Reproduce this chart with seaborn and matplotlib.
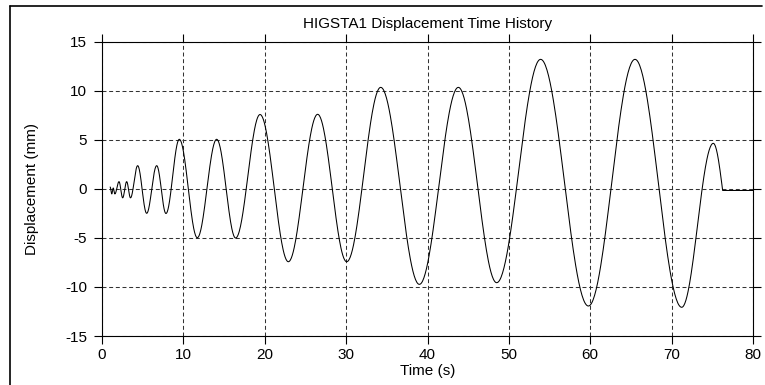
import numpy as np
import pandas as pd
import matplotlib
matplotlib.use("Agg")
import matplotlib.pyplot as plt
from matplotlib.lines import Line2D
import seaborn as sns

# Turning points of the displacement record (time in s, displacement in mm)
turn_t = [1.0, 1.2, 1.38, 1.58, 2.09, 2.54, 3.03, 3.5, 4.38, 5.49, 6.72, 7.86,
          9.5, 11.71, 14.09, 16.42, 19.42, 22.9, 26.5, 30.07, 34.25, 39.0,
          43.79, 48.5, 53.9, 59.77, 65.5, 71.24, 75.12]
turn_v = [0.2, -0.5, 0.1, -0.5, 0.75, -0.9, 0.75, -0.9, 2.38, -2.48, 2.38, -2.5,
          5.07, -4.97, 5.07, -5.0, 7.6, -7.42, 7.62, -7.42, 10.37, -9.73,
          10.37, -9.56, 13.23, -11.94, 13.23, -12.07, 4.66]
# Motion stops abruptly and the residual displacement holds to the end
stop_t = 76.27
rest_v = -0.15
end_t = 80.0

x_ticks = [0, 10, 20, 30, 40, 50, 60, 70, 80]
y_ticks = [-15, -10, -5, 0, 5, 10, 15]
title = "HIGSTA1 Displacement Time History"
x_label = "Time (s)"
y_label = "Displacement (mm)"


def build_record(tp, vp, t_stop, v_rest, t_end, n=60):
    """Join turning points with half-cosine swings, then the final drop and rest."""
    ts, vs = [], []
    s = np.linspace(0.0, 1.0, n, endpoint=False)
    for i in range(len(tp) - 1):
        ts.append(tp[i] + s * (tp[i + 1] - tp[i]))
        vs.append(vp[i] + (vp[i + 1] - vp[i]) * (1 - np.cos(np.pi * s)) / 2)
    s_end = np.linspace(0.0, 1.0, n)
    ts.append(tp[-1] + s_end * (t_stop - tp[-1]))
    vs.append(v_rest + (vp[-1] - v_rest) * np.cos(np.pi / 2 * s_end))
    ts.append(np.array([t_end]))
    vs.append(np.array([v_rest]))
    return pd.DataFrame({"t": np.concatenate(ts), "v": np.concatenate(vs)})


df = build_record(turn_t, turn_v, stop_t, rest_v, end_t)

sns.set_theme(style="white")
plt.rcParams["font.family"] = ["Liberation Sans", "DejaVu Sans"]

fig = plt.figure(figsize=(7.65, 3.85), dpi=100)
fig.patch.set_facecolor("white")
ax = fig.add_axes([102 / 765, 1 - 336 / 385, 651 / 765, 294 / 385])

sns.lineplot(data=df, x="t", y="v", ax=ax, color="black", linewidth=0.75,
             sort=False, estimator=None)

ax.set_xlim(0, 80)
ax.set_ylim(-15, 15)
ax.set_xticks(x_ticks)
ax.set_yticks(y_ticks)
ax.set_xticklabels([str(v) for v in x_ticks])
ax.set_yticklabels([str(v) for v in y_ticks])

ax.grid(True, color="#333333", linestyle=(0, (3.8, 2.6)), linewidth=0.75)
for sp in ax.spines.values():
    sp.set_visible(True)
    sp.set_color("black")
    sp.set_linewidth(0.8)

ax.tick_params(axis="both", which="major", direction="out", length=5.8, width=0.8,
               color="black", labelsize=11, labelcolor="black",
               top=True, right=True, bottom=True, left=True,
               labeltop=False, labelright=False)
ax.tick_params(axis="x", pad=3)
ax.tick_params(axis="y", pad=5)

ax.set_title(title, fontsize=11, color="black", pad=10)
ax.set_xlabel(x_label, fontsize=11, color="black", labelpad=1)
ax.set_ylabel(y_label, fontsize=11, color="black", labelpad=19)

# Outer frame edges along the top and left of the figure
fig.add_artist(Line2D([10 / 765, 762 / 765], [1 - 6 / 385, 1 - 6 / 385],
                      transform=fig.transFigure, color="black", linewidth=1.2))
fig.add_artist(Line2D([10 / 765, 10 / 765], [1 - 6 / 385, 0],
                      transform=fig.transFigure, color="black", linewidth=1.2))

fig.savefig("out.png", dpi=100, facecolor="white")
